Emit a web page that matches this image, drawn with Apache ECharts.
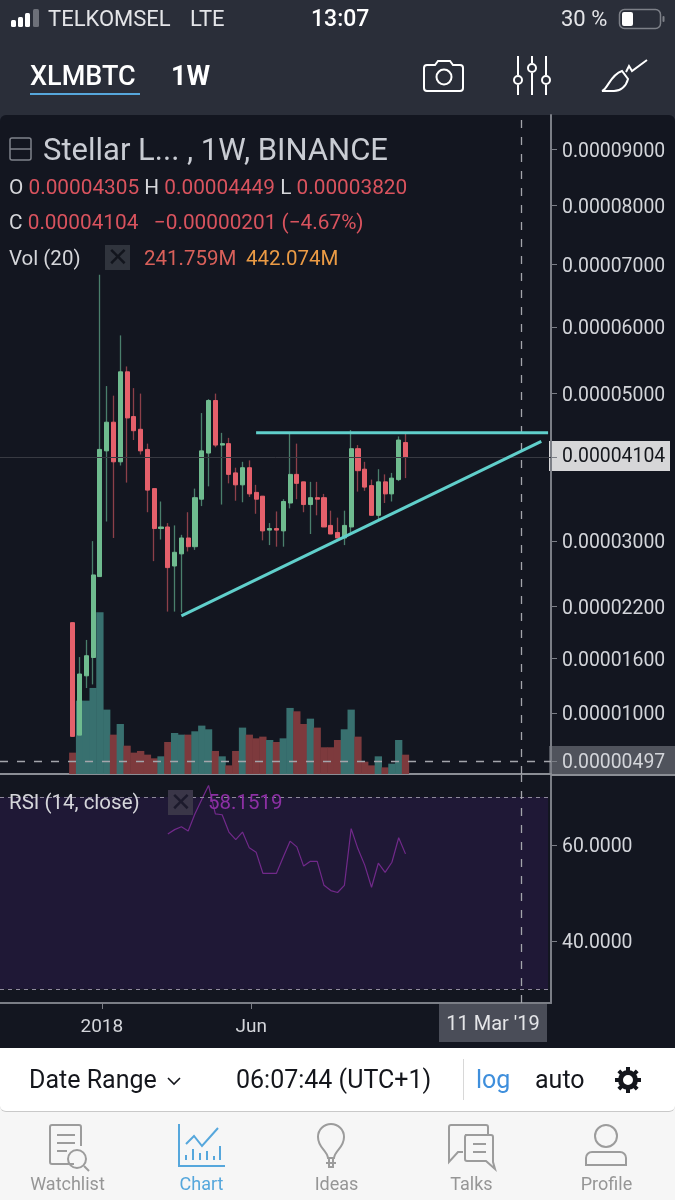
<!DOCTYPE html>
<html>
<head>
<meta charset="utf-8">
<script src="https://cdn.jsdelivr.net/npm/echarts@6/dist/echarts.min.js"></script>
<style>
  html, body { margin: 0; padding: 0; width: 675px; height: 1200px; overflow: hidden; background: #2a2e39; }
  body { position: relative; font-family: Roboto, sans-serif; }
  #chart { position: absolute; left: 0; top: 0; width: 675px; height: 1200px; z-index: 2; }
  .under { position: absolute; z-index: 1; }
  .over { position: absolute; z-index: 3; white-space: nowrap; line-height: 1; }
  svg.over { overflow: visible; fill: none; }
</style>
</head>
<body>
<div class="under" style="left:0;top:115px;width:675px;height:933px;background:#131620;border-radius:6px 6px 0 0"></div>
<div class="under" style="left:549px;top:441px;width:121px;height:30px;background:#d6d6d8"></div>
<div class="under" style="left:549px;top:746px;width:126px;height:28px;background:#50535c"></div>
<div class="under" style="left:439px;top:1003px;width:108px;height:39px;background:#4a4d58"></div>
<div class="under" style="left:0;top:1048px;width:675px;height:152px;background:#f6f6f6"></div>
<div class="under" style="left:0;top:1048px;width:675px;height:63px;background:#fff;border-bottom:1px solid #c9c9c9;border-radius:0 0 6px 6px"></div>
<div class="over" style="left:551px;top:774px;width:124px;height:2px;background:#8b8e95"></div>

<!-- status bar -->
<svg class="over" style="left:0;top:0" width="60" height="36">
  <rect x="11" y="20" width="5" height="7" rx="1.5" fill="#fff"/>
  <rect x="18" y="17" width="5" height="10" rx="1.5" fill="#fff"/>
  <rect x="25" y="13" width="5" height="14" rx="1.5" fill="#fff"/>
  <rect x="33" y="9" width="6" height="18" rx="1.5" fill="#6d7079"/>
</svg>
<div class="over" style="left:48px;top:8px;font-size:22px;color:#e4e5e8">TELKOMSEL</div>
<div class="over" style="left:190px;top:8px;font-size:22px;color:#e4e5e8">LTE</div>
<div class="over" style="left:311px;top:7px;font-size:23px;font-weight:500;color:#fff">13:07</div>
<div class="over" style="left:561px;top:8px;font-size:22px;color:#e4e5e8">30 %</div>
<svg class="over" style="left:617px;top:7px" width="50" height="24">
  <rect x="2.5" y="2.5" width="41" height="19" rx="5" stroke="#7d8088" stroke-width="1.5"/>
  <rect x="5" y="5" width="11" height="14" rx="2" fill="#fff"/>
  <rect x="45.5" y="9" width="2" height="6" rx="1" fill="#7d8088"/>
</svg>

<!-- toolbar -->
<div class="over" style="left:30px;top:63px;font-size:27px;font-weight:500;color:#fff">XLMBTC</div>
<div class="over" style="left:30px;top:93px;width:110px;height:2px;background:#56a7dc"></div>
<div class="over" style="left:171px;top:63px;font-size:27px;font-weight:700;color:#fff">1W</div>
<svg class="over" style="left:420px;top:56px;stroke:#fff;stroke-width:2" width="48" height="40">
  <path d="M7 9h8l3-4h12l3 4h7a3 3 0 0 1 3 3v20a3 3 0 0 1-3 3H7a3 3 0 0 1-3-3V12a3 3 0 0 1 3-3z"/>
  <circle cx="24" cy="21" r="7.5"/>
</svg>
<svg class="over" style="left:510px;top:54px;stroke:#fff;stroke-width:2" width="46" height="42">
  <path d="M8 2v19M8 31v10M22 2v7M22 19v22M36 2v19M36 31v10"/>
  <circle cx="8" cy="26" r="4"/><circle cx="22" cy="14" r="4"/><circle cx="36" cy="26" r="4"/>
</svg>
<svg class="over" style="left:600px;top:60px;stroke:#fff;stroke-width:2" width="50" height="34">
  <path d="M2 31c6-2 8-16 20-20l6 8c-2 8-8 12-14 12z"/>
  <path d="M26 12l3-6 3 5 15-11"/>
</svg>

<!-- legend -->
<svg class="over" style="left:9px;top:137px;stroke:#7f828a;stroke-width:1.5" width="23" height="24">
  <rect x="1" y="1" width="21" height="22" rx="2"/><path d="M1 12h21"/>
</svg>
<div class="over" style="left:43px;top:134px;font-size:31px;color:#c9ccd3">Stellar L... , 1W, BINANCE</div>
<div class="over" style="left:9px;top:177px;font-size:20.8px;color:#d5d6da">O <span style="color:#d9535e">0.00004305</span>&nbsp;H <span style="color:#d9535e">0.00004449</span>&nbsp;L <span style="color:#d9535e">0.00003820</span></div>
<div class="over" style="left:9px;top:212px;font-size:20.8px;color:#d5d6da">C <span style="color:#d9535e">0.00004104&nbsp; &nbsp;−0.00000201 (−4.67%)</span></div>
<div class="over" style="left:9px;top:248px;font-size:20.5px;color:#d5d6da">Vol (20)</div>
<div class="over" style="left:105px;top:245px;width:25px;height:25px;background:#30343d;color:#12151d;font-size:26px;text-align:center;line-height:25px">✕</div>
<div class="over" style="left:144px;top:248px;font-size:20.5px;color:#d9605a">241.759M</div>
<div class="over" style="left:246px;top:248px;font-size:20.5px;color:#eb9b45">442.074M</div>
<div class="over" style="left:9px;top:792px;font-size:20.5px;color:#d5d6da">RSI (14, close)</div>
<div class="over" style="left:168px;top:790px;width:25px;height:25px;background:#3a3648;color:#1c1a2c;font-size:26px;text-align:center;line-height:25px">✕</div>
<div class="over" style="left:208px;top:792px;font-size:20.5px;color:#8c2fa3">58.1519</div>
<div class="over" style="left:439px;top:1013px;width:108px;text-align:center;font-size:20px;color:#e4e5e8">11 Mar '19</div>

<!-- range bar -->
<div class="over" style="left:29px;top:1067px;font-size:25px;color:#14161c">Date Range</div>
<svg class="over" style="left:166px;top:1076px;stroke:#14161c;stroke-width:1.6" width="16" height="10"><path d="M2 2l6 6 6-6"/></svg>
<div class="over" style="left:236px;top:1067px;font-size:25px;color:#14161c">06:07:44 (UTC+1)</div>
<div class="over" style="left:463px;top:1059px;width:1px;height:41px;background:#d8d8d8"></div>
<div class="over" style="left:476px;top:1067px;font-size:25px;color:#3f8fdc">log</div>
<div class="over" style="left:535px;top:1067px;font-size:25px;color:#14161c">auto</div>
<svg class="over" style="left:614px;top:1066px" width="28" height="28">
  <circle cx="14" cy="14" r="7.5" stroke="#14161c" stroke-width="5"/>
  <path d="M14 1v5M14 22v5M1 14h5M22 14h5M4.8 4.8l3.5 3.5M19.7 19.7l3.5 3.5M4.8 23.2l3.5-3.5M19.7 8.3l3.5-3.5" stroke="#14161c" stroke-width="4"/>
</svg>

<!-- tab bar -->
<svg class="over" style="left:0;top:1120px;stroke:#9c9c9c;stroke-width:2" width="675" height="52">
  <path d="M74 44H52a2 2 0 0 1-2-2V7a2 2 0 0 1 2-2h27a2 2 0 0 1 2 2v19M57 15h18M57 23h18M57 31h10"/>
  <circle cx="77" cy="39" r="9"/><path d="M84 46l5 5"/>
  <path stroke="#56a7dc" d="M179 4v42h46M186 24l8-8 8 10 16-18M186 40v-5M193 40v-11M200 40v-7M207 40v-9M214 40v-4M220 40v-14" />
  <path d="M328 38c-1-8-10-10-10-21a13 13 0 0 1 26 0c0 11-9 13-10 21zM329 38v9h4v-9M326 43h10"/>
  <path d="M449 32V7a2 2 0 0 1 2-2h35a2 2 0 0 1 2 2v8M449 32v10l9-10h5M465 15h26a2 2 0 0 1 2 2v25l2 7-9-8h-19a2 2 0 0 1-2-2V17a2 2 0 0 1 2-2zM473 24h13M473 32h13"/>
  <circle cx="606" cy="16" r="11"/><path d="M586 45v-7a6 6 0 0 1 6-6h28a6 6 0 0 1 6 6v7z"/>
</svg>
<div class="over" style="left:27px;top:1175px;width:81px;text-align:center;font-size:18px;color:#969696">Watchlist</div>
<div class="over" style="left:161px;top:1175px;width:81px;text-align:center;font-size:18px;color:#56a7dc">Chart</div>
<div class="over" style="left:296px;top:1175px;width:81px;text-align:center;font-size:18px;color:#969696">Ideas</div>
<div class="over" style="left:431px;top:1175px;width:81px;text-align:center;font-size:18px;color:#969696">Talks</div>
<div class="over" style="left:566px;top:1175px;width:81px;text-align:center;font-size:18px;color:#969696">Profile</div>

<div id="chart"></div>

<script>
// prices are in units of 0.00001 BTC, one entry per week
var openPrice = [2.01, 0.765, 1.405, 1.61, 2.56, 4.19, 4.59, 4.04, 5.32, 4.67, 4.49, 4.21, 3.68, 3.16, 3.18, 2.69, 2.84,
  3.04, 2.93, 3.54, 4.16, 4.90, 4.27, 4.29, 3.89, 3.73, 3.96, 3.63, 3.58, 3.14, 3.16, 3.13, 3.49, 3.87, 3.77,
  3.47, 3.56, 3.56, 3.20, 3.11, 3.04, 3.18, 4.22, 3.94, 3.72, 3.33, 3.77, 3.61, 3.80, 4.305];
var closePrice = [0.752, 1.425, 1.63, 2.58, 4.21, 4.59, 4.04, 5.32, 4.65, 4.47, 4.19, 3.66, 3.16, 3.18, 2.67, 2.86, 3.04,
  2.93, 3.56, 4.19, 4.90, 4.27, 4.29, 3.87, 3.73, 3.96, 3.61, 3.54, 3.13, 3.16, 3.14, 3.51, 3.87, 3.75, 3.47,
  3.56, 3.54, 3.18, 3.09, 3.04, 3.20, 4.22, 3.92, 3.70, 3.33, 3.77, 3.61, 3.82, 4.34, 4.104];
var lowPrice = [0.752, 0.765, 1.27, 1.31, 2.56, 3.25, 3.04, 3.99, 3.76, 4.34, 4.14, 3.37, 2.75, 3.02, 2.14, 2.14, 2.13,
  2.87, 2.89, 3.45, 3.71, 4.24, 3.47, 3.75, 3.52, 3.50, 3.57, 3.35, 3.01, 2.95, 2.93, 2.93, 3.42, 3.54, 3.37,
  3.09, 3.33, 3.18, 3.09, 3.04, 2.95, 3.11, 3.64, 3.65, 3.33, 3.28, 3.49, 3.51, 3.78, 3.82];
var highPrice = [2.01, 1.615, 1.81, 3.00, 6.83, 5.11, 4.97, 5.87, 5.40, 5.08, 5.00, 4.29, 3.68, 3.51, 3.23, 3.20, 3.08,
  3.37, 3.68, 4.72, 4.92, 5.00, 4.44, 4.37, 3.96, 4.04, 4.06, 3.73, 3.58, 3.23, 3.38, 3.54, 4.44, 4.29, 3.77,
  3.77, 3.77, 3.61, 3.39, 3.30, 3.39, 4.48, 4.27, 4.04, 3.80, 3.94, 3.87, 3.89, 4.39, 4.449];
// weekly volume in millions
var volume = [267, 917, 917, 1076, 2022, 805, 492, 625, 354, 267, 288, 242, 196, 221, 400, 513, 492, 492, 534, 605, 559,
  288, 221, 108, 288, 580, 492, 446, 467, 425, 400, 446, 826, 784, 625, 692, 580, 334, 334, 425, 559, 805, 467,
  154, 108, 221, 83, 129, 425, 241.759];
// RSI starts on the 15th week
var rsiValues = [62.3, 63.2, 63.8, 62.9, 66.5, 69.5, 72.4, 66.5, 66.3, 62.7, 61.1, 62.7, 59.4, 58.5, 54.1, 54.1, 54.1,
  57.5, 60.8, 59.6, 55.6, 56.6, 56.6, 51.6, 50.5, 50.1, 51.6, 63.4, 59.2, 55.8, 51.2, 56.2, 54.3, 56.4, 61.5, 58.15];

var priceTicks = [9, 8, 7, 6, 5, 3, 2.2, 1.6, 1];
var lastPrice = 4.104;
var crossPrice = 0.497;
var rsiTicks = [60, 40];
var dateTicks = ['2018-01-03', '2018-06-06'];
var dateLabels = ['2018', 'Jun'];
var crossDate = '2019-03-11';
var resistanceDates = ['2018-06-11', '2019-04-08'];
var resistancePrices = [4.44, 4.44];
var supportDates = ['2018-03-26', '2019-04-01'];
var supportPrices = [2.09, 4.32];

function toTime(text) {
  var parts = text.split('-');
  return new Date(+parts[0], +parts[1] - 1, +parts[2]).getTime();
}

// the app's "log" price scale is a log with an offset, so the axis runs on this value
function scale(price) {
  return Math.log(price + 10.2);
}

var weeks = openPrice.map(function(_, i) {
  return new Date(2017, 11, 4 + 7 * i).getTime();
});
var timeMin = toTime('2017-09-20');
var timeMax = toTime('2019-04-11');
var crossTime = toTime(crossDate);
var tickTimes = dateTicks.map(toTime);
var allPriceTicks = priceTicks.concat([lastPrice, crossPrice]);

var wickData = weeks.map(function(t, i) {
  return [t, scale(openPrice[i]), scale(closePrice[i]), scale(lowPrice[i]), scale(highPrice[i])];
});
var bodyData = weeks.map(function(t, i) {
  var o = scale(openPrice[i]);
  var c = scale(closePrice[i]);
  return [t, o, c, Math.min(o, c), Math.max(o, c)];
});
var volumeData = weeks.map(function(t, i) {
  return {
    value: [t, volume[i]],
    itemStyle: {color: closePrice[i] >= openPrice[i] ? '#38706f' : '#7d3a3d'}
  };
});
var rsiData = rsiValues.map(function(v, i) {
  return [weeks[i + 14], v];
});

function trendLine(dates, prices) {
  return {
    type: 'line', xAxisIndex: 0, yAxisIndex: 0, z: 6, showSymbol: false, silent: true,
    lineStyle: {color: '#60cfcb', width: 3},
    data: dates.map(function(d, i) {
      return [toTime(d), scale(prices[i])];
    })
  };
}

var axisColor = '#7b7e86';
var labelColor = '#d3d5da';
var crossStyle = {color: '#a3a5ab', width: 1.3, type: [8, 9]};
// rich text padding nudges the label down to sit level with its tick
var tickRich = {
  plain: {fontSize: 19.4, color: labelColor, padding: [5, 0, 0, 0]},
  last: {fontSize: 19.4, color: '#14161c'}
};
var chart = echarts.init(document.getElementById('chart'));

chart.setOption({
  animation: false,
  backgroundColor: 'transparent',
  textStyle: {fontFamily: 'Roboto'},
  grid: [
    {left: 0, top: 115, width: 551, height: 659},
    {left: 0, top: 775, width: 551, height: 228}
  ],
  // both x axes are plain numeric axes over timestamps so the ticks can sit on chosen dates
  xAxis: [{
    type: 'value', gridIndex: 0, min: timeMin, max: timeMax,
    splitLine: {show: false},
    axisLine: {lineStyle: {color: '#8b8e95', width: 2}},
    axisTick: {show: false},
    axisLabel: {show: false}
  }, {
    type: 'value', gridIndex: 1, min: timeMin, max: timeMax,
    splitLine: {show: false},
    axisLine: {lineStyle: {color: axisColor, width: 2}},
    axisTick: {length: 6, lineStyle: {color: axisColor}, customValues: tickTimes},
    axisLabel: {
      customValues: tickTimes, fontSize: 19, color: labelColor, margin: 15, hideOverlap: false,
      formatter: function(value) {
        return dateLabels[tickTimes.indexOf(value)];
      }
    }
  }],
  yAxis: [{
    type: 'value', gridIndex: 0, position: 'right',
    min: scale(0.365), max: scale(9.64),
    splitLine: {show: false},
    axisLine: {show: true, lineStyle: {color: axisColor, width: 2}},
    axisTick: {show: true, length: 6, lineStyle: {color: axisColor}, customValues: allPriceTicks.map(scale)},
    axisLabel: {
      customValues: allPriceTicks.map(scale), margin: 11, hideOverlap: false, rich: tickRich,
      formatter: function(value) {
        var style = Math.abs(value - scale(lastPrice)) < 1e-6 ? 'last' : 'plain';
        return '{' + style + '|' + ((Math.exp(value) - 10.2) / 1e5).toFixed(8) + '}';
      }
    }
  }, {
    type: 'value', gridIndex: 0, min: 0, max: 8240, show: false
  }, {
    type: 'value', gridIndex: 1, position: 'right', min: 27.08, max: 74.58,
    splitLine: {show: false},
    axisLine: {show: true, lineStyle: {color: axisColor, width: 2}},
    axisTick: {show: true, length: 6, lineStyle: {color: axisColor}, customValues: rsiTicks},
    axisLabel: {
      customValues: rsiTicks, margin: 11, rich: tickRich,
      formatter: function(value) {
        return '{plain|' + value.toFixed(4) + '}';
      }
    }
  }],
  series: [{
    type: 'bar', xAxisIndex: 0, yAxisIndex: 1, z: 2, barWidth: 7.3, silent: true,
    data: volumeData
  }, {
    type: 'candlestick', xAxisIndex: 0, yAxisIndex: 0, z: 3, barWidth: 1, silent: true,
    itemStyle: {color: '#4a7f6c', color0: '#8c4049', borderColor: '#4a7f6c', borderColor0: '#8c4049', borderWidth: 1.3},
    data: wickData,
    markLine: {
      silent: true, symbol: 'none', animation: false, label: {show: false},
      data: [
        {yAxis: scale(lastPrice), lineStyle: {color: '#383a42', width: 1, type: 'solid'}},
        {yAxis: scale(crossPrice), lineStyle: crossStyle},
        {xAxis: crossTime, lineStyle: crossStyle}
      ]
    }
  }, {
    type: 'candlestick', xAxisIndex: 0, yAxisIndex: 0, z: 4, barWidth: 4.6, silent: true,
    itemStyle: {color: '#6fbb8f', color0: '#e5606b', borderColor: '#6fbb8f', borderColor0: '#e5606b', borderWidth: 1},
    data: bodyData
  },
  trendLine(resistanceDates, resistancePrices),
  trendLine(supportDates, supportPrices),
  {
    type: 'line', xAxisIndex: 1, yAxisIndex: 2, z: 4, showSymbol: false, silent: true,
    lineStyle: {color: '#71298a', width: 1.2},
    data: rsiData,
    markArea: {
      silent: true,
      itemStyle: {color: '#1f1836'},
      data: [[{yAxis: 70, xAxis: timeMin}, {yAxis: 30, xAxis: toTime('2019-04-08')}]]
    },
    markLine: {
      silent: true, symbol: 'none', animation: false, label: {show: false},
      data: [
        {yAxis: 70, lineStyle: {color: '#8f8a9c', width: 1, type: [4, 4]}},
        {yAxis: 30, lineStyle: {color: '#8f8a9c', width: 1, type: [4, 4]}},
        {xAxis: crossTime, lineStyle: crossStyle}
      ]
    }
  }]
});
</script>
</body>
</html>
